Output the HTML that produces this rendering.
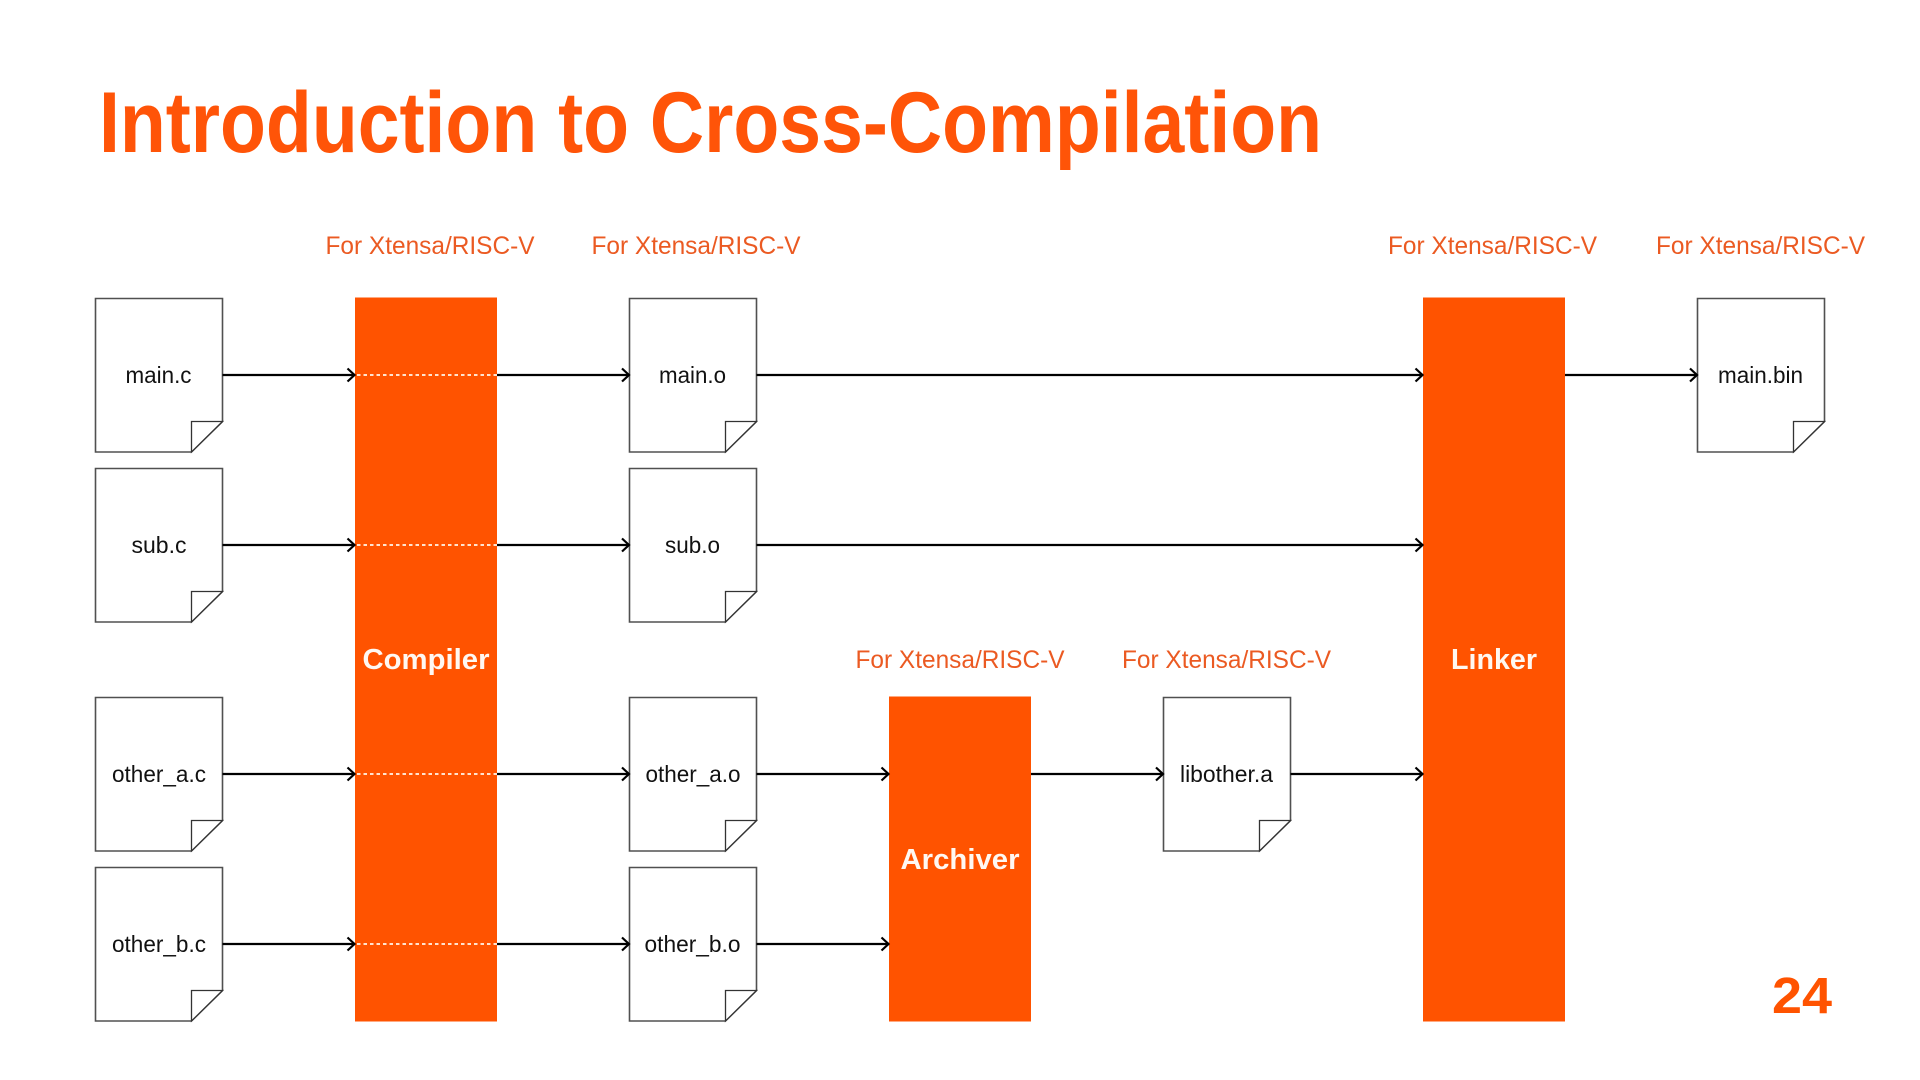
<!DOCTYPE html>
<html lang="en">
<head>
<meta charset="utf-8">
<title>Introduction to Cross-Compilation</title>
<style>
html,body{margin:0;padding:0;background:#fff;width:1920px;height:1080px;overflow:hidden}
svg{display:block}
text{font-family:"Liberation Sans",sans-serif}
.lb{font-size:25px;fill:#EB5A22}
.f{font-size:23px;fill:#111}
.b{font-size:29px;font-weight:bold;fill:#FFF8F2}
.d{fill:#fff;stroke:#505050;stroke-width:1.6}
.fo{fill:#fff;stroke:#333;stroke-width:1.3}
.a{fill:none;stroke:#000;stroke-width:2.2}
.dash{stroke:#FFE3CF;stroke-width:2;stroke-dasharray:3.5 3}
</style>
</head>
<body>
<svg width="1920" height="1080" viewBox="0 0 1920 1080" xmlns="http://www.w3.org/2000/svg">
<defs>
<g id="doc">
<path class="d" d="M0 0H127V123L96 153.5H0Z"/>
<path class="fo" d="M96 153.5V123H127Z"/>
</g>
<path id="h" class="a" d="M-7-6.500L0 0L-7 6.500"/>
</defs>
<rect width="1920" height="1080" fill="#fff"/>

<text x="99" y="152" font-size="86" font-weight="bold" fill="#FF5408" textLength="1223" lengthAdjust="spacingAndGlyphs">Introduction to Cross-Compilation</text>

<rect x="355" y="297.500" width="142" height="724" fill="#FF5300"/>
<rect x="889" y="696.500" width="142" height="325" fill="#FF5300"/>
<rect x="1423" y="297.500" width="142" height="724" fill="#FF5300"/>

<line class="dash" x1="357" y1="375" x2="497" y2="375"/>
<line class="dash" x1="357" y1="545" x2="497" y2="545"/>
<line class="dash" x1="357" y1="774" x2="497" y2="774"/>
<line class="dash" x1="357" y1="944" x2="497" y2="944"/>

<use href="#doc" x="95.500" y="298.500"/>
<use href="#doc" x="95.500" y="468.500"/>
<use href="#doc" x="95.500" y="697.500"/>
<use href="#doc" x="95.500" y="867.500"/>
<use href="#doc" x="629.500" y="298.500"/>
<use href="#doc" x="629.500" y="468.500"/>
<use href="#doc" x="629.500" y="697.500"/>
<use href="#doc" x="629.500" y="867.500"/>
<use href="#doc" x="1163.500" y="697.500"/>
<use href="#doc" x="1697.500" y="298.500"/>

<g class="a">
<path d="M222.500 375H355M497 375H629M756.500 375H1423M1565 375H1697"/>
<path d="M222.500 545H355M497 545H629M756.500 545H1423"/>
<path d="M222.500 774H355M497 774H629M756.500 774H889M1031 774H1163M1290.500 774H1423"/>
<path d="M222.500 944H355M497 944H629M756.500 944H889"/>
</g>
<use href="#h" x="354.500" y="375"/><use href="#h" x="629" y="375"/><use href="#h" x="1422.500" y="375"/><use href="#h" x="1697" y="375"/>
<use href="#h" x="354.500" y="545"/><use href="#h" x="629" y="545"/><use href="#h" x="1422.500" y="545"/>
<use href="#h" x="354.500" y="774"/><use href="#h" x="629" y="774"/><use href="#h" x="888.500" y="774"/><use href="#h" x="1163" y="774"/><use href="#h" x="1422.500" y="774"/>
<use href="#h" x="354.500" y="944"/><use href="#h" x="629" y="944"/><use href="#h" x="888.500" y="944"/>

<text class="lb" x="325.500" y="254" textLength="209" lengthAdjust="spacingAndGlyphs">For Xtensa/RISC-V</text>
<text class="lb" x="591.500" y="254" textLength="209" lengthAdjust="spacingAndGlyphs">For Xtensa/RISC-V</text>
<text class="lb" x="1388" y="254" textLength="209" lengthAdjust="spacingAndGlyphs">For Xtensa/RISC-V</text>
<text class="lb" x="1656" y="254" textLength="209" lengthAdjust="spacingAndGlyphs">For Xtensa/RISC-V</text>
<text class="lb" x="855.500" y="668" textLength="209" lengthAdjust="spacingAndGlyphs">For Xtensa/RISC-V</text>
<text class="lb" x="1122" y="668" textLength="209" lengthAdjust="spacingAndGlyphs">For Xtensa/RISC-V</text>

<text class="f" x="125.500" y="383" textLength="66" lengthAdjust="spacingAndGlyphs">main.c</text>
<text class="f" x="131.500" y="553" textLength="55" lengthAdjust="spacingAndGlyphs">sub.c</text>
<text class="f" x="112" y="782" textLength="94" lengthAdjust="spacingAndGlyphs">other_a.c</text>
<text class="f" x="112" y="952" textLength="94" lengthAdjust="spacingAndGlyphs">other_b.c</text>
<text class="f" x="659" y="383" textLength="67" lengthAdjust="spacingAndGlyphs">main.o</text>
<text class="f" x="665" y="553" textLength="55" lengthAdjust="spacingAndGlyphs">sub.o</text>
<text class="f" x="645.500" y="782" textLength="95" lengthAdjust="spacingAndGlyphs">other_a.o</text>
<text class="f" x="644.500" y="952" textLength="96" lengthAdjust="spacingAndGlyphs">other_b.o</text>
<text class="f" x="1180" y="782" textLength="93" lengthAdjust="spacingAndGlyphs">libother.a</text>
<text class="f" x="1718" y="383" textLength="85" lengthAdjust="spacingAndGlyphs">main.bin</text>

<text class="b" x="362.500" y="669" textLength="127" lengthAdjust="spacingAndGlyphs">Compiler</text>
<text class="b" x="900.500" y="869" textLength="119" lengthAdjust="spacingAndGlyphs">Archiver</text>
<text class="b" x="1451" y="669" textLength="86" lengthAdjust="spacingAndGlyphs">Linker</text>

<text x="1772" y="1013" font-size="51" font-weight="bold" fill="#FF5300" textLength="60" lengthAdjust="spacingAndGlyphs">24</text>
</svg>
</body>
</html>
